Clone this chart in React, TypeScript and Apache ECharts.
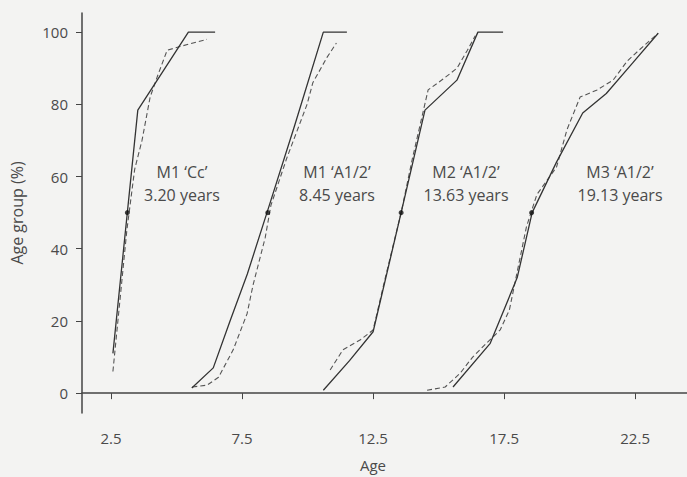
import React, { useEffect, useRef } from "react";
import * as echarts from "echarts";

const xTicks = [2.5, 7.5, 12.5, 17.5, 22.5];
const yTicks = [0, 20, 40, 60, 80, 100];

const g1Solid = [[2.57, 11], [3.52, 78.4], [5.45, 100], [6.47, 100]];
const g1Dashed = [[2.57, 6], [3.1, 45], [3.4, 62], [3.68, 70], [3.99, 82], [4.28, 88], [4.64, 95], [5.13, 96], [5.63, 97], [6.16, 98]];

const g2Solid = [[5.58, 1.4], [6.4, 7], [7.04, 20], [7.7, 33], [8.45, 50], [9.5, 74], [10.6, 100], [11.5, 100]];
const g2Dashed = [[5.6, 1.7], [6.16, 2.2], [6.6, 4.4], [7.16, 12], [7.69, 22], [7.92, 30], [8.38, 43], [8.6, 52], [9.2, 65], [9.98, 80], [10.2, 86], [10.74, 93], [11.1, 97]];

const g3Solid = [[10.6, 0.8], [11.6, 9], [12.5, 17], [13.57, 50], [14.48, 78.4], [15.7, 86.7], [16.5, 100], [17.46, 100]];
const g3Dashed = [[10.86, 6.4], [11.35, 12], [12.0, 14.7], [12.5, 17.5], [13.0, 33], [13.57, 50], [14.0, 65], [14.6, 84], [15.17, 87], [15.7, 90], [16.1, 95], [16.4, 99]];

const g4Solid = [[15.55, 1.7], [16.97, 13.8], [18.0, 32], [18.57, 50], [19.5, 64], [20.5, 77.6], [21.4, 83], [22.4, 91.4], [23.38, 99.7]];
const g4Dashed = [[14.56, 0.8], [15.25, 1.7], [15.82, 5.5], [16.3, 10], [16.85, 14], [17.35, 17.5], [17.7, 23], [18.35, 46], [18.75, 55], [19.5, 62.6], [19.9, 73], [20.4, 82], [21.05, 84], [21.66, 86.7], [22.2, 92], [22.8, 96], [23.38, 99.7]];

const medians = [[3.12, 50], [8.48, 50], [13.57, 50], [18.55, 50]];

const labelTitles = ["M1 \u2018Cc\u2019", "M1 \u2018A1/2\u2019", "M2 \u2018A1/2\u2019", "M3 \u2018A1/2\u2019"];
const labelYears = ["3.20 years", "8.45 years", "13.63 years", "19.13 years"];
const labelCenters = [182, 337, 466, 620];

const FONT = "'Open Sans', 'Noto Sans', sans-serif";
const TEXT = "#4a4a4a";
const LINE = "#333";

export default function App() {
  const ref = useRef<HTMLDivElement>(null);
  useEffect(() => {
    const chart = echarts.init(ref.current!, null, { renderer: "svg" });
    const solid = (data: number[][]) => ({
      type: "line",
      data,
      symbol: "none",
      lineStyle: { color: LINE, width: 1.3, type: "solid" },
      z: 3,
    });
    const dashed = (data: number[][]) => ({
      type: "line",
      data,
      symbol: "none",
      lineStyle: { color: "#555", width: 1.1, type: [5, 3] },
      z: 2,
    });
    const graphics: any[] = [];
    labelTitles.forEach((t, i) => {
      graphics.push({
        type: "text",
        x: labelCenters[i],
        y: 172,
        style: { text: t, font: `16px ${FONT}`, fill: TEXT, textAlign: "center", textVerticalAlign: "middle" },
      });
      graphics.push({
        type: "text",
        x: labelCenters[i],
        y: 195,
        style: { text: labelYears[i], font: `16px ${FONT}`, fill: TEXT, textAlign: "center", textVerticalAlign: "middle" },
      });
    });
    graphics.push({
      type: "text",
      x: 373,
      y: 465,
      style: { text: "Age", font: `15px ${FONT}`, fill: TEXT, textAlign: "center", textVerticalAlign: "middle" },
    });
    chart.setOption({
      animation: false,
      backgroundColor: "#f3f3f2",
      grid: { left: 82, right: 0, top: 13, bottom: 64 },
      xAxis: {
        type: "value",
        min: 1.39,
        max: 24.48,
        splitLine: { show: false },
        axisLine: { show: true, lineStyle: { color: "#444", width: 1.5 } },
        axisTick: { show: true, length: 6, customValues: xTicks, lineStyle: { color: "#444" } },
        axisLabel: {
          customValues: xTicks,
          formatter: (v: number) => String(v),
          margin: 17,
          color: TEXT,
          fontSize: 15,
          fontFamily: FONT,
        },
      },
      yAxis: {
        type: "value",
        min: -5.5,
        max: 105.3,
        name: "Age group (%)",
        nameLocation: "middle",
        nameGap: 57,
        nameTextStyle: { color: TEXT, fontSize: 16, fontFamily: FONT },
        splitLine: { show: false },
        axisLine: { show: true, lineStyle: { color: "#444", width: 1.5 } },
        axisTick: { show: true, length: 6, customValues: yTicks, lineStyle: { color: "#444" } },
        axisLabel: {
          customValues: yTicks,
          formatter: (v: number) => String(v),
          margin: 14,
          color: TEXT,
          fontSize: 15,
          fontFamily: FONT,
        },
      },
      series: [
        solid(g1Solid), dashed(g1Dashed),
        solid(g2Solid), dashed(g2Dashed),
        solid(g3Solid), dashed(g3Dashed),
        solid(g4Solid), dashed(g4Dashed),
        {
          type: "scatter",
          data: medians,
          symbol: "circle",
          symbolSize: 5,
          itemStyle: { color: "#111" },
          z: 5,
        },
      ],
      graphic: graphics,
    });
    return () => chart.dispose();
  }, []);
  return <div ref={ref} style={{ position: "fixed", left: 0, top: 0, width: 687, height: 477 }} />;
}
